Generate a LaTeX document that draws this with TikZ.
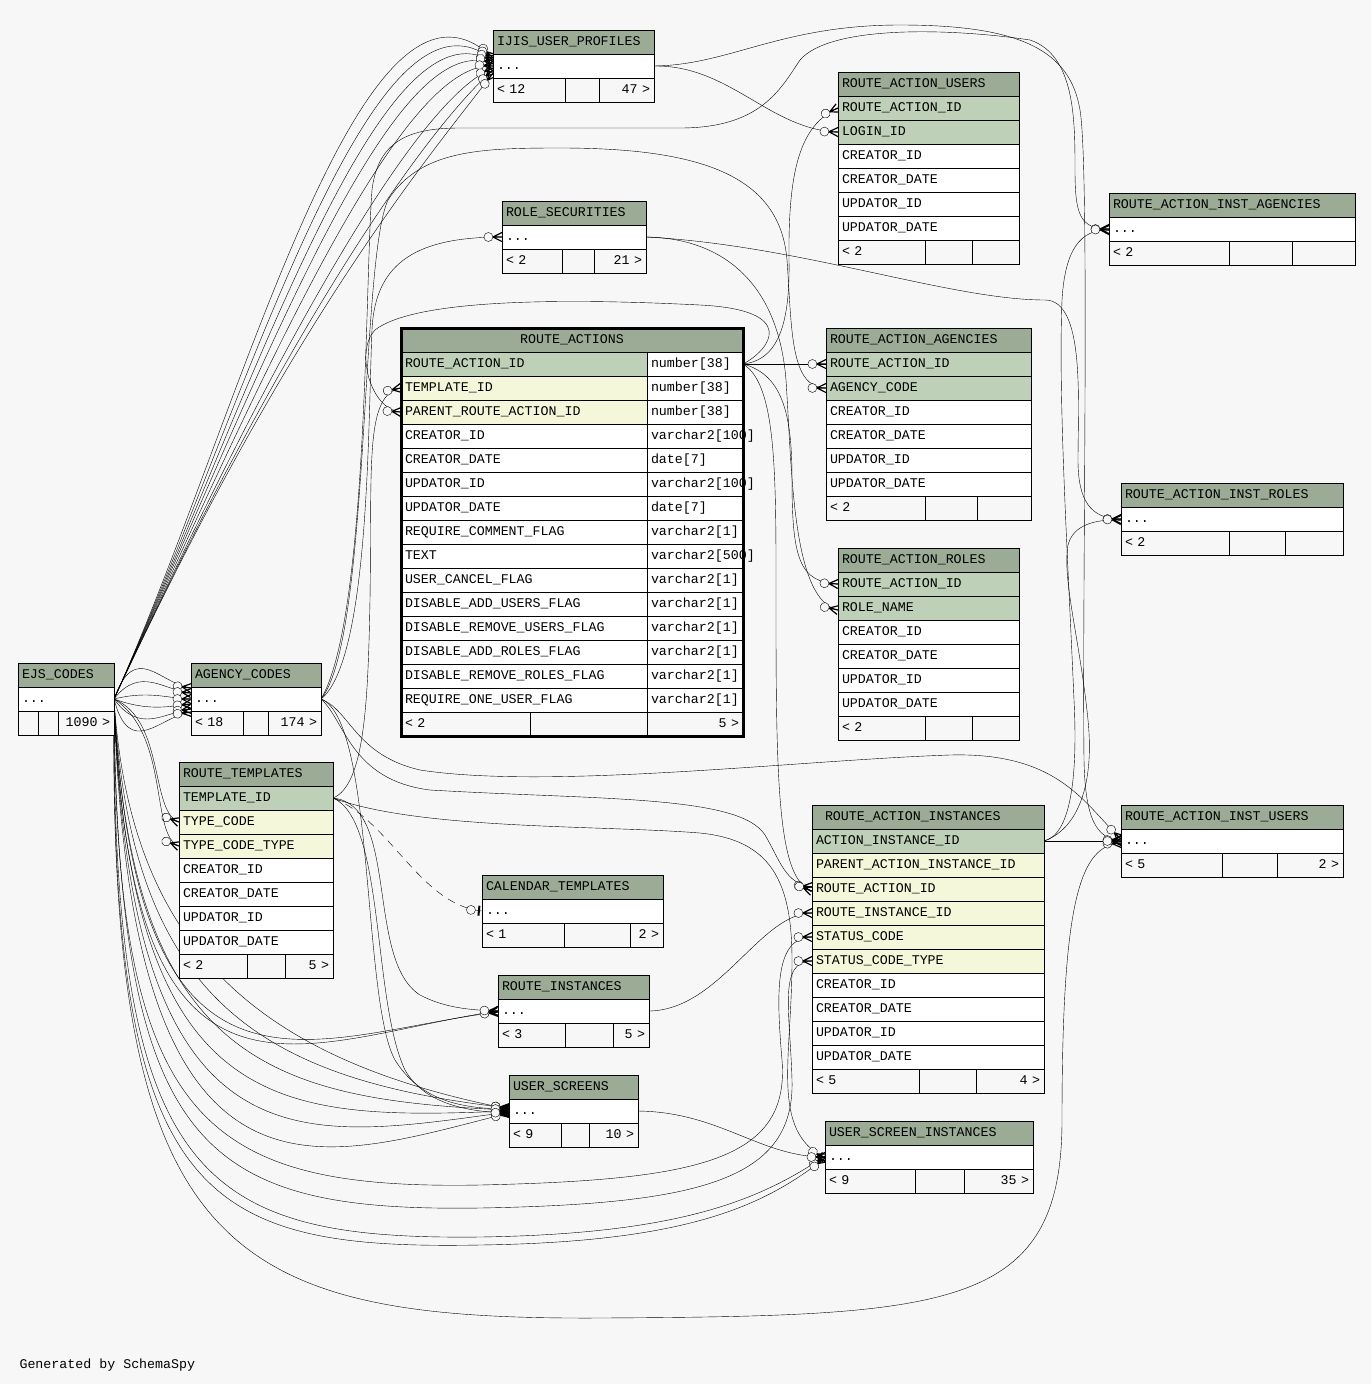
\documentclass[tikz,border=0pt]{standalone}
\usepackage{fontspec}
\newfontfamily\schemafont{Liberation Mono}
\usetikzlibrary{positioning,decorations.markings}

\definecolor{bgc}{HTML}{F7F7F7}
\definecolor{hdrc}{HTML}{9BAB96}
\definecolor{pkc}{HTML}{BED1B8}
\definecolor{fkc}{HTML}{F4F7DA}
\definecolor{colc}{HTML}{FFFFFF}

\pgfdeclarelayer{bg}
\pgfdeclarelayer{edges}
\pgfsetlayers{bg,edges,main}

\tikzset{
  cell/.style={draw, line width=0.9pt, fill=colc, anchor=north west, minimum height=24pt, inner xsep=4pt, inner ysep=0pt, outer sep=0pt, text height=9.5pt, text depth=2.5pt},
  cw/.style={text width=#1pt-8pt},
  hdr/.style={cell, fill=hdrc},
  foot/.style={cell, fill=bgc},
  crowfoot/.style={postaction={decorate, decoration={markings, mark=at position -0.1pt with {
      \draw[solid, line width=1.2pt] (-9pt,0pt) -- (0pt,4.5pt) (-9pt,0pt) -- (0pt,-4.5pt) (-9pt,0pt) -- (0pt,0pt);
      \draw[solid, fill=bgc] (-13.5pt,0pt) circle (4.5pt);}}}},
  zeroone/.style={postaction={decorate, decoration={markings, mark=at position -0.1pt with {
      \draw[solid, line width=2pt] (-3pt,-5pt) -- (-3pt,5pt);
      \draw[solid, fill=bgc] (-11pt,0pt) circle (4.5pt);}}}},
}

\begin{document}
\begin{tikzpicture}[x=1pt, y=-1pt, line width=0.9pt,
  every node/.style={font=\schemafont\fontsize{13.3pt}{16pt}\selectfont}]
  \useasboundingbox (0,0) rectangle (1371,1384);
  \begin{pgfonlayer}{bg}
    \fill[bgc] (0,0) rectangle (1371,1384);
  \end{pgfonlayer}

  % tables
  \node[hdr, cw=161] (iup) at (493,30) {IJIS\_USER\_PROFILES};
  \node[cell, cw=161] (iup-dots) at (493,54) {...};
  \node[foot, cw=72] (iup-f1) at (493,78) {< 12};
  \node[foot, cw=34, right=0pt of iup-f1] (iup-f2) {};
  \node[foot, cw=55, align=right, right=0pt of iup-f2] (iup-f3) {47 >};

  \node[hdr, cw=181] (rau) at (838,72) {ROUTE\_ACTION\_USERS};
  \foreach \cname/\cfill [count=\i] in {ROUTE\_ACTION\_ID/pkc, LOGIN\_ID/pkc, CREATOR\_ID/colc, CREATOR\_DATE/colc, UPDATOR\_ID/colc, UPDATOR\_DATE/colc}
    \node[cell, cw=181, fill=\cfill] (rau-\i) at (838,{72+24*\i}) {\cname};
  \node[foot, cw=87] (rau-f1) at (838,240) {< 2};
  \node[foot, cw=47, right=0pt of rau-f1] (rau-f2) {};
  \node[foot, cw=47, right=0pt of rau-f2] (rau-f3) {};

  \node[hdr, cw=246] (raia) at (1109,193) {ROUTE\_ACTION\_INST\_AGENCIES};
  \node[cell, cw=246] (raia-dots) at (1109,217) {...};
  \node[foot, cw=120] (raia-f1) at (1109,241) {< 2};
  \node[foot, cw=63, right=0pt of raia-f1] (raia-f2) {};
  \node[foot, cw=63, right=0pt of raia-f2] (raia-f3) {};

  \node[hdr, cw=144] (rs) at (502,201) {ROLE\_SECURITIES};
  \node[cell, cw=144] (rs-dots) at (502,225) {...};
  \node[foot, cw=60] (rs-f1) at (502,249) {< 2};
  \node[foot, cw=32, right=0pt of rs-f1] (rs-f2) {};
  \node[foot, cw=52, align=right, right=0pt of rs-f2] (rs-f3) {21 >};

  \node[hdr, cw=342, align=center] (ra) at (401,328) {ROUTE\_ACTIONS};
  \foreach \cname/\ctype/\cfill [count=\i] in {
    ROUTE\_ACTION\_ID/number[38]/pkc, TEMPLATE\_ID/number[38]/fkc, PARENT\_ROUTE\_ACTION\_ID/number[38]/fkc,
    CREATOR\_ID/varchar2[100]/colc, CREATOR\_DATE/date[7]/colc, UPDATOR\_ID/varchar2[100]/colc,
    UPDATOR\_DATE/date[7]/colc, REQUIRE\_COMMENT\_FLAG/varchar2[1]/colc, TEXT/varchar2[500]/colc,
    USER\_CANCEL\_FLAG/varchar2[1]/colc, DISABLE\_ADD\_USERS\_FLAG/varchar2[1]/colc,
    DISABLE\_REMOVE\_USERS\_FLAG/varchar2[1]/colc, DISABLE\_ADD\_ROLES\_FLAG/varchar2[1]/colc,
    DISABLE\_REMOVE\_ROLES\_FLAG/varchar2[1]/colc, REQUIRE\_ONE\_USER\_FLAG/varchar2[1]/colc}{
    \node[cell, cw=246, fill=\cfill] (ra-\i) at (401,{328+24*\i}) {\cname};
    \node[cell, cw=96, right=0pt of ra-\i] (rat-\i) {\ctype};
  }
  \node[foot, cw=129] (ra-f1) at (401,712) {< 2};
  \node[foot, cw=117, right=0pt of ra-f1] (ra-f2) {};
  \node[foot, cw=96, align=right, right=0pt of ra-f2] (ra-f3) {5 >};
  \draw[line width=3pt] (ra.north west) rectangle (ra-f3.south east);

  \node[hdr, cw=205] (raa) at (826,328) {ROUTE\_ACTION\_AGENCIES};
  \foreach \cname/\cfill [count=\i] in {ROUTE\_ACTION\_ID/pkc, AGENCY\_CODE/pkc, CREATOR\_ID/colc, CREATOR\_DATE/colc, UPDATOR\_ID/colc, UPDATOR\_DATE/colc}
    \node[cell, cw=205, fill=\cfill] (raa-\i) at (826,{328+24*\i}) {\cname};
  \node[foot, cw=99] (raa-f1) at (826,496) {< 2};
  \node[foot, cw=52, right=0pt of raa-f1] (raa-f2) {};
  \node[foot, cw=54, right=0pt of raa-f2] (raa-f3) {};

  \node[hdr, cw=222] (rair) at (1121,483) {ROUTE\_ACTION\_INST\_ROLES};
  \node[cell, cw=222] (rair-dots) at (1121,507) {...};
  \node[foot, cw=108] (rair-f1) at (1121,531) {< 2};
  \node[foot, cw=56, right=0pt of rair-f1] (rair-f2) {};
  \node[foot, cw=58, right=0pt of rair-f2] (rair-f3) {};

  \node[hdr, cw=181] (rar) at (838,548) {ROUTE\_ACTION\_ROLES};
  \foreach \cname/\cfill [count=\i] in {ROUTE\_ACTION\_ID/pkc, ROLE\_NAME/pkc, CREATOR\_ID/colc, CREATOR\_DATE/colc, UPDATOR\_ID/colc, UPDATOR\_DATE/colc}
    \node[cell, cw=181, fill=\cfill] (rar-\i) at (838,{548+24*\i}) {\cname};
  \node[foot, cw=87] (rar-f1) at (838,716) {< 2};
  \node[foot, cw=47, right=0pt of rar-f1] (rar-f2) {};
  \node[foot, cw=47, right=0pt of rar-f2] (rar-f3) {};

  \node[hdr, cw=96] (ejs) at (18,663) {EJS\_CODES};
  \node[cell, cw=96] (ejs-dots) at (18,687) {...};
  \node[foot, cw=20] (ejs-f1) at (18,711) {};
  \node[foot, cw=20, right=0pt of ejs-f1] (ejs-f2) {};
  \node[foot, cw=56, align=right, right=0pt of ejs-f2] (ejs-f3) {1090 >};

  \node[hdr, cw=130] (ac) at (191,663) {AGENCY\_CODES};
  \node[cell, cw=130] (ac-dots) at (191,687) {...};
  \node[foot, cw=52] (ac-f1) at (191,711) {< 18};
  \node[foot, cw=25, right=0pt of ac-f1] (ac-f2) {};
  \node[foot, cw=53, align=right, right=0pt of ac-f2] (ac-f3) {174 >};

  \node[hdr, cw=154] (rt) at (179,762) {ROUTE\_TEMPLATES};
  \foreach \cname/\cfill [count=\i] in {TEMPLATE\_ID/pkc, TYPE\_CODE/fkc, TYPE\_CODE\_TYPE/fkc, CREATOR\_ID/colc, CREATOR\_DATE/colc, UPDATOR\_ID/colc, UPDATOR\_DATE/colc}
    \node[cell, cw=154, fill=\cfill] (rt-\i) at (179,{762+24*\i}) {\cname};
  \node[foot, cw=68] (rt-f1) at (179,954) {< 2};
  \node[foot, cw=38, right=0pt of rt-f1] (rt-f2) {};
  \node[foot, cw=48, align=right, right=0pt of rt-f2] (rt-f3) {5 >};

  \node[hdr, cw=181] (ct) at (482,875) {CALENDAR\_TEMPLATES};
  \node[cell, cw=181] (ct-dots) at (482,899) {...};
  \node[foot, cw=82] (ct-f1) at (482,923) {< 1};
  \node[foot, cw=66, right=0pt of ct-f1] (ct-f2) {};
  \node[foot, cw=33, align=right, right=0pt of ct-f2] (ct-f3) {2 >};

  \node[hdr, cw=151] (ri) at (498,975) {ROUTE\_INSTANCES};
  \node[cell, cw=151] (ri-dots) at (498,999) {...};
  \node[foot, cw=67] (ri-f1) at (498,1023) {< 3};
  \node[foot, cw=48, right=0pt of ri-f1] (ri-f2) {};
  \node[foot, cw=36, align=right, right=0pt of ri-f2] (ri-f3) {5 >};

  \node[hdr, cw=129] (us) at (509,1075) {USER\_SCREENS};
  \node[cell, cw=129] (us-dots) at (509,1099) {...};
  \node[foot, cw=52] (us-f1) at (509,1123) {< 9};
  \node[foot, cw=28, right=0pt of us-f1] (us-f2) {};
  \node[foot, cw=49, align=right, right=0pt of us-f2] (us-f3) {10 >};

  \node[hdr, text width=206pt, inner xsep=13pt] (rai) at (812,805) {ROUTE\_ACTION\_INSTANCES};
  \foreach \cname/\cfill [count=\i] in {ACTION\_INSTANCE\_ID/pkc, PARENT\_ACTION\_INSTANCE\_ID/fkc, ROUTE\_ACTION\_ID/fkc, ROUTE\_INSTANCE\_ID/fkc, STATUS\_CODE/fkc, STATUS\_CODE\_TYPE/fkc, CREATOR\_ID/colc, CREATOR\_DATE/colc, UPDATOR\_ID/colc, UPDATOR\_DATE/colc}
    \node[cell, cw=232, fill=\cfill] (rai-\i) at (812,{805+24*\i}) {\cname};
  \node[foot, cw=107] (rai-f1) at (812,1069) {< 5};
  \node[foot, cw=57, right=0pt of rai-f1] (rai-f2) {};
  \node[foot, cw=68, align=right, right=0pt of rai-f2] (rai-f3) {4 >};

  \node[hdr, cw=222] (raiu) at (1121,805) {ROUTE\_ACTION\_INST\_USERS};
  \node[cell, cw=222] (raiu-dots) at (1121,829) {...};
  \node[foot, cw=101] (raiu-f1) at (1121,853) {< 5};
  \node[foot, cw=55, right=0pt of raiu-f1] (raiu-f2) {};
  \node[foot, cw=66, align=right, right=0pt of raiu-f2] (raiu-f3) {2 >};

  \node[hdr, cw=208] (usi) at (825,1121) {USER\_SCREEN\_INSTANCES};
  \node[cell, cw=208] (usi-dots) at (825,1145) {...};
  \node[foot, cw=90] (usi-f1) at (825,1169) {< 9};
  \node[foot, cw=49, right=0pt of usi-f1] (usi-f2) {};
  \node[foot, cw=69, align=right, right=0pt of usi-f2] (usi-f3) {35 >};

  \node[anchor=west] (gen) at (16,1365) {Generated by SchemaSpy};

  % relationships
  \begin{pgfonlayer}{edges}
  % ejs_codes
  \foreach \ax/\ay/\bx/\by/\dy in {240/420/360/-70/8, 245/410/370/-40/6, 250/400/380/-10/4, 255/390/390/20/2, 265/370/400/60/0, 275/350/415/100/-2, 285/330/425/130/-4, 295/310/435/150/-7}
    \draw[crowfoot] (ejs-dots.east) .. controls (\ax,\ay) and (\bx,\by) .. ([yshift=\dy pt]iup-dots.west);
  \foreach \ax/\ay/\bx/\by/\dy in {135/640/160/684/11, 140/665/165/691/6, 150/690/170/699/0, 150/712/170/706/-5, 140/735/165/712/-10, 130/760/160/716/-13}
    \draw[crowfoot] (ejs-dots.east) .. controls (\ax,\ay) and (\bx,\by) .. ([yshift=\dy pt]ac-dots.west);
  \draw[crowfoot] (ejs-dots.east) .. controls (165,720) and (150,812) .. (rt-2.west);
  \draw[crowfoot] (ejs-dots.east) .. controls (170,735) and (150,836) .. (rt-3.west);
  \draw[crowfoot] (ejs-dots.east) .. controls (130,1150) and (300,1040) .. (ri-dots.west);
  \draw[crowfoot] (ejs-dots.east) .. controls (135,1140) and (310,1035) .. ([yshift=-1pt]ri-dots.west);
  \foreach \ay/\bx/\by/\dy in {950/260/1060/2, 1000/260/1080/3, 1060/270/1100/1, 1120/280/1120/0, 1180/300/1140/-1, 1240/320/1160/-2}
    \draw[crowfoot] (ejs-dots.east) .. controls (130,\ay) and (\bx,\by) .. ([yshift=\dy pt]us-dots.west);
  \draw[crowfoot] (ejs-dots.east) .. controls (115,1120) and (200,1190) .. (480,1185) .. controls (700,1180) and (790,1160) .. (782,1060) .. controls (776,990) and (775,937) .. (rai-5.west);
  \draw[crowfoot] (ejs-dots.east) .. controls (118,1150) and (200,1212) .. (480,1208) .. controls (700,1204) and (795,1180) .. (792,1080) .. controls (790,1010) and (778,961) .. (rai-6.west);
  \draw[crowfoot] (ejs-dots.east) .. controls (112,1180) and (200,1240) .. (480,1237) .. controls (680,1234) and (760,1200) .. ([yshift=1pt]usi-dots.west);
  \draw[crowfoot] (ejs-dots.east) .. controls (110,1200) and (200,1250) .. (480,1245) .. controls (690,1242) and (765,1205) .. ([yshift=-1pt]usi-dots.west);
  \draw[crowfoot] (ejs-dots.east) .. controls (108,1250) and (220,1320) .. (600,1318) .. controls (950,1316) and (1062,1310) .. (1062,1120) .. controls (1062,900) and (1080,845) .. ([yshift=-2pt]raiu-dots.west);

  % agency_codes
  \draw[crowfoot] (ac-dots.east) .. controls (370,660) and (368,420) .. (372,330) .. controls (375,260) and (420,237) .. (rs-dots.west);
  \draw[crowfoot] (ac-dots.east) .. controls (370,640) and (360,260) .. (388,200) .. controls (420,150) and (480,148) .. (560,148) .. controls (700,148) and (780,175) .. (787,260) .. controls (792,330) and (790,388) .. (raa-2.west);
  \draw[crowfoot] (ac-dots.east) .. controls (368,620) and (365,280) .. (372,190) .. controls (378,140) and (410,128) .. (460,128) -- (680,128) .. controls (760,128) and (780,90) .. (800,60) .. controls (830,25) and (950,28) .. (1030,40) .. controls (1075,55) and (1075,120) .. (1075,170) .. controls (1075,215) and (1080,229) .. (raia-dots.west);
  \draw[crowfoot] (ac-dots.east) .. controls (350,710) and (355,755) .. (420,770) .. controls (550,790) and (800,760) .. (950,755) .. controls (1060,752) and (1085,805) .. ([yshift=2pt]raiu-dots.west);
  \draw[crowfoot] (ac-dots.east) .. controls (375,720) and (362,1000) .. (395,1060) .. controls (420,1100) and (460,1109) .. ([yshift=2pt]us-dots.west);
  \draw[crowfoot] (ac-dots.east) .. controls (345,720) and (350,780) .. (430,790) .. controls (600,800) and (740,795) .. (765,835) .. controls (780,860) and (785,884) .. ([yshift=2pt]rai-3.west);

  % route_templates
  \draw[crowfoot] (rt-1.east) .. controls (365,785) and (368,700) .. (370,600) .. controls (372,460) and (365,395) .. (ra-2.west);
  \draw[zeroone, dash pattern=on 8pt off 6pt] (rt-1.east) .. controls (390,820) and (420,905) .. (ct-dots.west);
  \draw[crowfoot] (rt-1.east) .. controls (400,805) and (365,960) .. (420,995) .. controls (445,1008) and (470,1010) .. (ri-dots.west);
  \draw[crowfoot] (rt-1.east) .. controls (385,820) and (372,1000) .. (405,1070) .. controls (425,1105) and (470,1112) .. ([yshift=-2pt]us-dots.west);
  \draw[crowfoot] (rt-1.east) .. controls (420,830) and (600,825) .. (700,833) .. controls (770,840) and (792,880) .. (792,960) .. controls (792,1060) and (770,1130) .. ([yshift=-1pt]usi-dots.west);

  % route_actions
  \draw[crowfoot] (rat-1.east) .. controls (780,360) and (790,320) .. (789,260) .. controls (788,170) and (800,125) .. (rau-1.west);
  \draw[crowfoot] (rat-1.east) -- (raa-1.west);
  \draw[crowfoot] (rat-1.east) .. controls (785,375) and (792,420) .. (792,480) .. controls (792,560) and (800,582) .. (rar-1.west);
  \draw[crowfoot] (rat-1.east) .. controls (778,385) and (776,480) .. (776,620) .. controls (776,800) and (780,880) .. ([yshift=-2pt]rai-3.west);
  \draw[crowfoot] (rat-1.east) .. controls (770,350) and (800,310) .. (700,305) .. controls (600,300) and (420,295) .. (375,330) .. controls (355,350) and (370,410) .. (ra-3.west);

  % ijis_user_profiles
  \draw[crowfoot] (iup-dots.east) .. controls (730,65) and (770,130) .. (rau-2.west);
  \draw[crowfoot] (iup-dots.east) .. controls (730,65) and (780,25) .. (900,25) .. controls (1020,25) and (1070,50) .. (1080,110) .. controls (1090,170) and (1082,600) .. (1084,760) .. controls (1085,815) and (1095,840) .. ([yshift=1pt]raiu-dots.west);

  % role_securities
  \draw[crowfoot] (rs-dots.east) .. controls (720,238) and (778,280) .. (786,380) .. controls (792,470) and (792,600) .. ([yshift=-2pt]rar-2.west);
  \draw[crowfoot] (rs-dots.east) .. controls (800,245) and (950,300) .. (1045,300) .. controls (1085,300) and (1078,400) .. (1078,460) .. controls (1078,500) and (1090,519) .. (rair-dots.west);

  % route_instances, user_screens
  \draw[crowfoot] (ri-dots.east) .. controls (720,1010) and (760,913) .. (rai-4.west);
  \draw[crowfoot] (us-dots.east) .. controls (720,1112) and (760,1157) .. (usi-dots.west);

  % route_action_instances
  \draw[crowfoot] (rai-1.east) -- (raiu-dots.west);
  \draw[crowfoot] (rai-1.east) .. controls (1070,835) and (1078,780) .. (1074,700) .. controls (1068,560) and (1058,400) .. (1062,300) .. controls (1065,250) and (1080,229) .. ([yshift=-1pt]raia-dots.west);
  \draw[crowfoot] (rai-1.east) .. controls (1075,830) and (1095,790) .. (1088,720) .. controls (1080,640) and (1062,580) .. (1068,545) .. controls (1073,525) and (1095,519) .. ([yshift=-1pt]rair-dots.west);
  \end{pgfonlayer}
\end{tikzpicture}
\end{document}
